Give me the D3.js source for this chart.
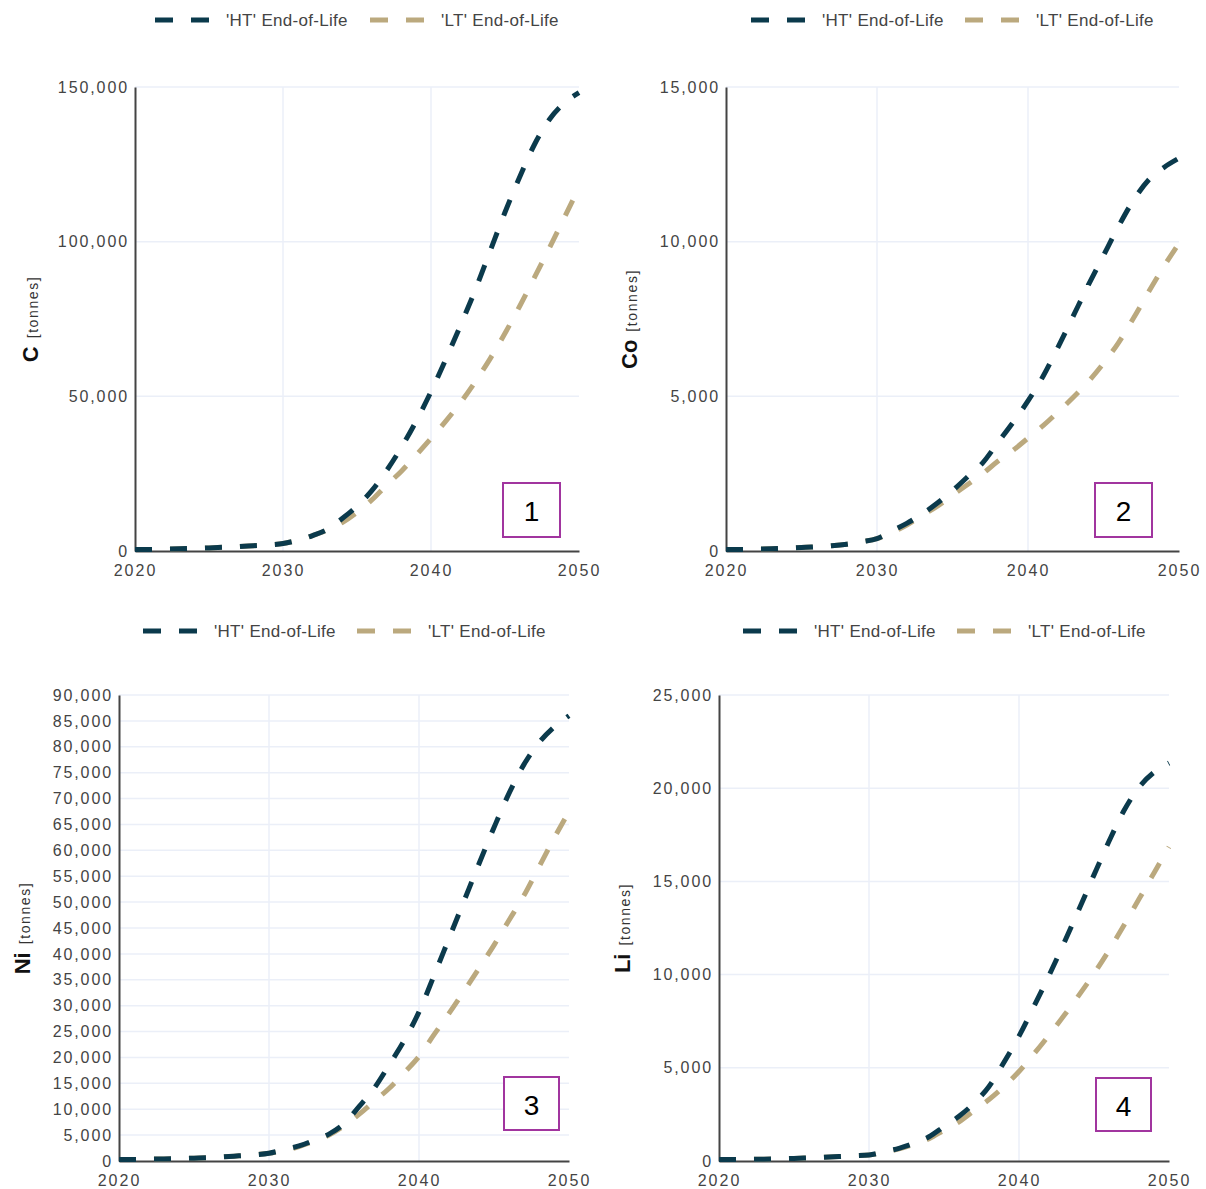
<!DOCTYPE html>
<html>
<head>
<meta charset="utf-8">
<script src="https://cdn.jsdelivr.net/npm/d3@7"></script>
<style>
  html, body { margin: 0; padding: 0; background: #fff; }
  svg { display: block; }
  text { font-family: "Liberation Sans", Arial, sans-serif; }
</style>
</head>
<body>
<svg id="chart" width="1206" height="1189"></svg>
<script>
// ---------- DATA ----------
const years = [2020,2021,2022,2023,2024,2025,2026,2027,2028,2029,2030,2031,2032,2033,2034,2035,2036,2037,2038,2039,2040,2041,2042,2043,2044,2045,2046,2047,2048,2049,2050];
const xTicks = [2020, 2030, 2040, 2050];
const seriesNames = ["'HT' End-of-Life", "'LT' End-of-Life"];

const cHT  = [500,500,600,700,850,1000,1200,1400,1700,2000,2400,3500,5000,7000,10500,14500,19500,26000,33500,42000,51500,62000,73000,84500,97000,109500,121000,131500,139500,144800,148200];
const cLT  = [500,500,600,700,850,1000,1200,1400,1700,2000,2400,3500,5000,6800,9200,12500,16500,21300,25800,31000,36400,42000,48000,54800,62200,70400,79200,88500,98000,107700,117500];
const coHT = [50,50,60,70,90,110,140,170,220,300,400,650,900,1200,1550,1950,2400,2850,3500,4150,4850,5650,6600,7600,8600,9550,10500,11350,12000,12400,12700];
const coLT = [50,50,60,70,90,110,140,170,220,300,400,600,850,1150,1450,1800,2150,2500,2900,3250,3650,4050,4500,4970,5480,6070,6740,7540,8390,9200,9950];
const niHT = [300,300,350,400,450,550,650,800,1000,1200,1500,2200,2900,4000,5200,7200,10500,14000,18500,23200,28800,35800,43000,50200,57400,64400,71000,76600,80800,83800,86000];
const niLT = [300,300,350,400,450,550,650,800,1000,1200,1500,2000,2800,3800,5000,6800,9000,11500,14000,17000,20200,24400,28500,32800,37200,41700,46500,51300,56800,62300,67500];
const liHT = [80,80,90,100,120,140,170,200,240,280,320,500,680,950,1300,1850,2400,3100,4000,5300,6700,8300,9950,11700,13500,15350,17150,18800,20050,20850,21350];
const liLT = [80,80,90,100,120,140,170,200,240,280,320,450,650,900,1200,1650,2100,2700,3300,4000,4800,5750,6750,7800,8900,10050,11300,12650,14050,15450,16850];

const cTicks  = [0, 50000, 100000, 150000];
const coTicks = [0, 5000, 10000, 15000];
const niTicks = [0,5000,10000,15000,20000,25000,30000,35000,40000,45000,50000,55000,60000,65000,70000,75000,80000,85000,90000];
const liTicks = [0, 5000, 10000, 15000, 20000, 25000];

const elements = ["C", "Co", "Ni", "Li"];
const unit = "[tonnes]";
const panelNumbers = ["1", "2", "3", "4"];

// ---------- LAYOUT ----------
const colors = ["#0b3a4c", "#bba97e"];
const panels = [
  { el: elements[0], ht: cHT,  lt: cLT,  ticks: cTicks,  ymax: 150000, x0: 135, x1: 579, yTop: 87,  yBot: 551,
    legY: 20,  legX: [155, 370], titleX: 38,  num: panelNumbers[0], box: [503, 483, 57, 54] },
  { el: elements[1], ht: coHT, lt: coLT, ticks: coTicks, ymax: 15000,  x0: 726, x1: 1179, yTop: 87, yBot: 551,
    legY: 20,  legX: [751, 965], titleX: 637, num: panelNumbers[1], box: [1095, 483, 57, 54] },
  { el: elements[2], ht: niHT, lt: niLT, ticks: niTicks, ymax: 90000,  x0: 119, x1: 569, yTop: 695, yBot: 1161,
    legY: 631, legX: [143, 357], titleX: 30, num: panelNumbers[2], box: [504, 1077, 55, 53] },
  { el: elements[3], ht: liHT, lt: liLT, ticks: liTicks, ymax: 25000,  x0: 719, x1: 1169, yTop: 695, yBot: 1161,
    legY: 631, legX: [743, 957], titleX: 630, num: panelNumbers[3], box: [1096, 1078, 55, 53] }
];

const svg = d3.select("#chart");
const fmt = d3.format(",");

panels.forEach(p => {
  const g = svg.append("g");
  const x = d3.scaleLinear().domain([2020, 2050]).range([p.x0, p.x1]);
  const y = d3.scaleLinear().domain([0, p.ymax]).range([p.yBot, p.yTop]);

  // gridlines
  g.append("g").selectAll("line.h").data(p.ticks.filter(t => t > 0)).join("line")
    .attr("x1", p.x0).attr("x2", p.x1)
    .attr("y1", d => y(d)).attr("y2", d => y(d))
    .attr("stroke", "#ebeff8").attr("stroke-width", 1.5);
  g.append("g").selectAll("line.v").data(xTicks.filter(t => t > 2020 && t < 2050)).join("line")
    .attr("x1", d => x(d)).attr("x2", d => x(d))
    .attr("y1", p.yTop).attr("y2", p.yBot)
    .attr("stroke", "#ebeff8").attr("stroke-width", 1.5);

  // axes
  const yAxis = d3.axisLeft(y).tickValues(p.ticks).tickFormat(fmt).tickSize(0).tickPadding(6);
  const ya = g.append("g").attr("transform", `translate(${p.x0},0)`).call(yAxis);
  ya.select(".domain").attr("stroke", "#444").attr("stroke-width", 2);
  ya.selectAll("text").attr("font-size", 16).attr("fill", "#444")
    .attr("letter-spacing", "1.9px")
    .attr("font-family", "'Liberation Sans', Arial, sans-serif");

  const xAxis = d3.axisBottom(x).tickValues(xTicks).tickFormat(d3.format("d")).tickSize(0).tickPadding(14);
  const xa = g.append("g").attr("transform", `translate(0,${p.yBot})`).call(xAxis);
  xa.select(".domain").attr("stroke", "#444").attr("stroke-width", 2);
  xa.selectAll("text").attr("font-size", 16).attr("fill", "#444")
    .attr("letter-spacing", "2px")
    .attr("font-family", "'Liberation Sans', Arial, sans-serif");

  // lines
  const line = d3.line().x((d, i) => x(years[i])).y(d => y(d)).curve(d3.curveMonotoneX);
  [p.lt, p.ht].forEach((s, k) => {
    g.append("path").datum(s)
      .attr("d", line)
      .attr("fill", "none")
      .attr("stroke", k === 1 ? colors[0] : colors[1])
      .attr("stroke-width", 5)
      .attr("stroke-dasharray", "17,18");
  });

  // legend
  seriesNames.forEach((name, k) => {
    const lx = p.legX[k];
    g.append("line")
      .attr("x1", lx).attr("x2", lx + 54)
      .attr("y1", p.legY).attr("y2", p.legY)
      .attr("stroke", colors[k]).attr("stroke-width", 5)
      .attr("stroke-dasharray", "18,18");
    g.append("text")
      .attr("x", lx + 71).attr("y", p.legY + 6)
      .attr("font-size", 17).attr("fill", "#444")
      .attr("letter-spacing", "0.3px")
      .text(name);
  });

  // y title
  const cy = (p.yTop + p.yBot) / 2;
  const t = g.append("text")
    .attr("transform", `translate(${p.titleX},${cy}) rotate(-90)`)
    .attr("text-anchor", "middle")
    .attr("fill", "#111");
  t.append("tspan").attr("font-size", 22).attr("font-weight", "bold").text(p.el);
  t.append("tspan").attr("font-size", 14).attr("fill", "#333").attr("letter-spacing", "1.6px").attr("dx", 8).text(unit);

  // number box
  const [bx, by, bw, bh] = p.box;
  g.append("rect").attr("x", bx).attr("y", by).attr("width", bw).attr("height", bh)
    .attr("fill", "#fff").attr("stroke", "#a1359f").attr("stroke-width", 2);
  g.append("text").attr("x", bx + bw / 2).attr("y", by + bh / 2 + 11)
    .attr("text-anchor", "middle").attr("font-size", 28).attr("fill", "#000")
    .text(p.num);
});
</script>
</body>
</html>
